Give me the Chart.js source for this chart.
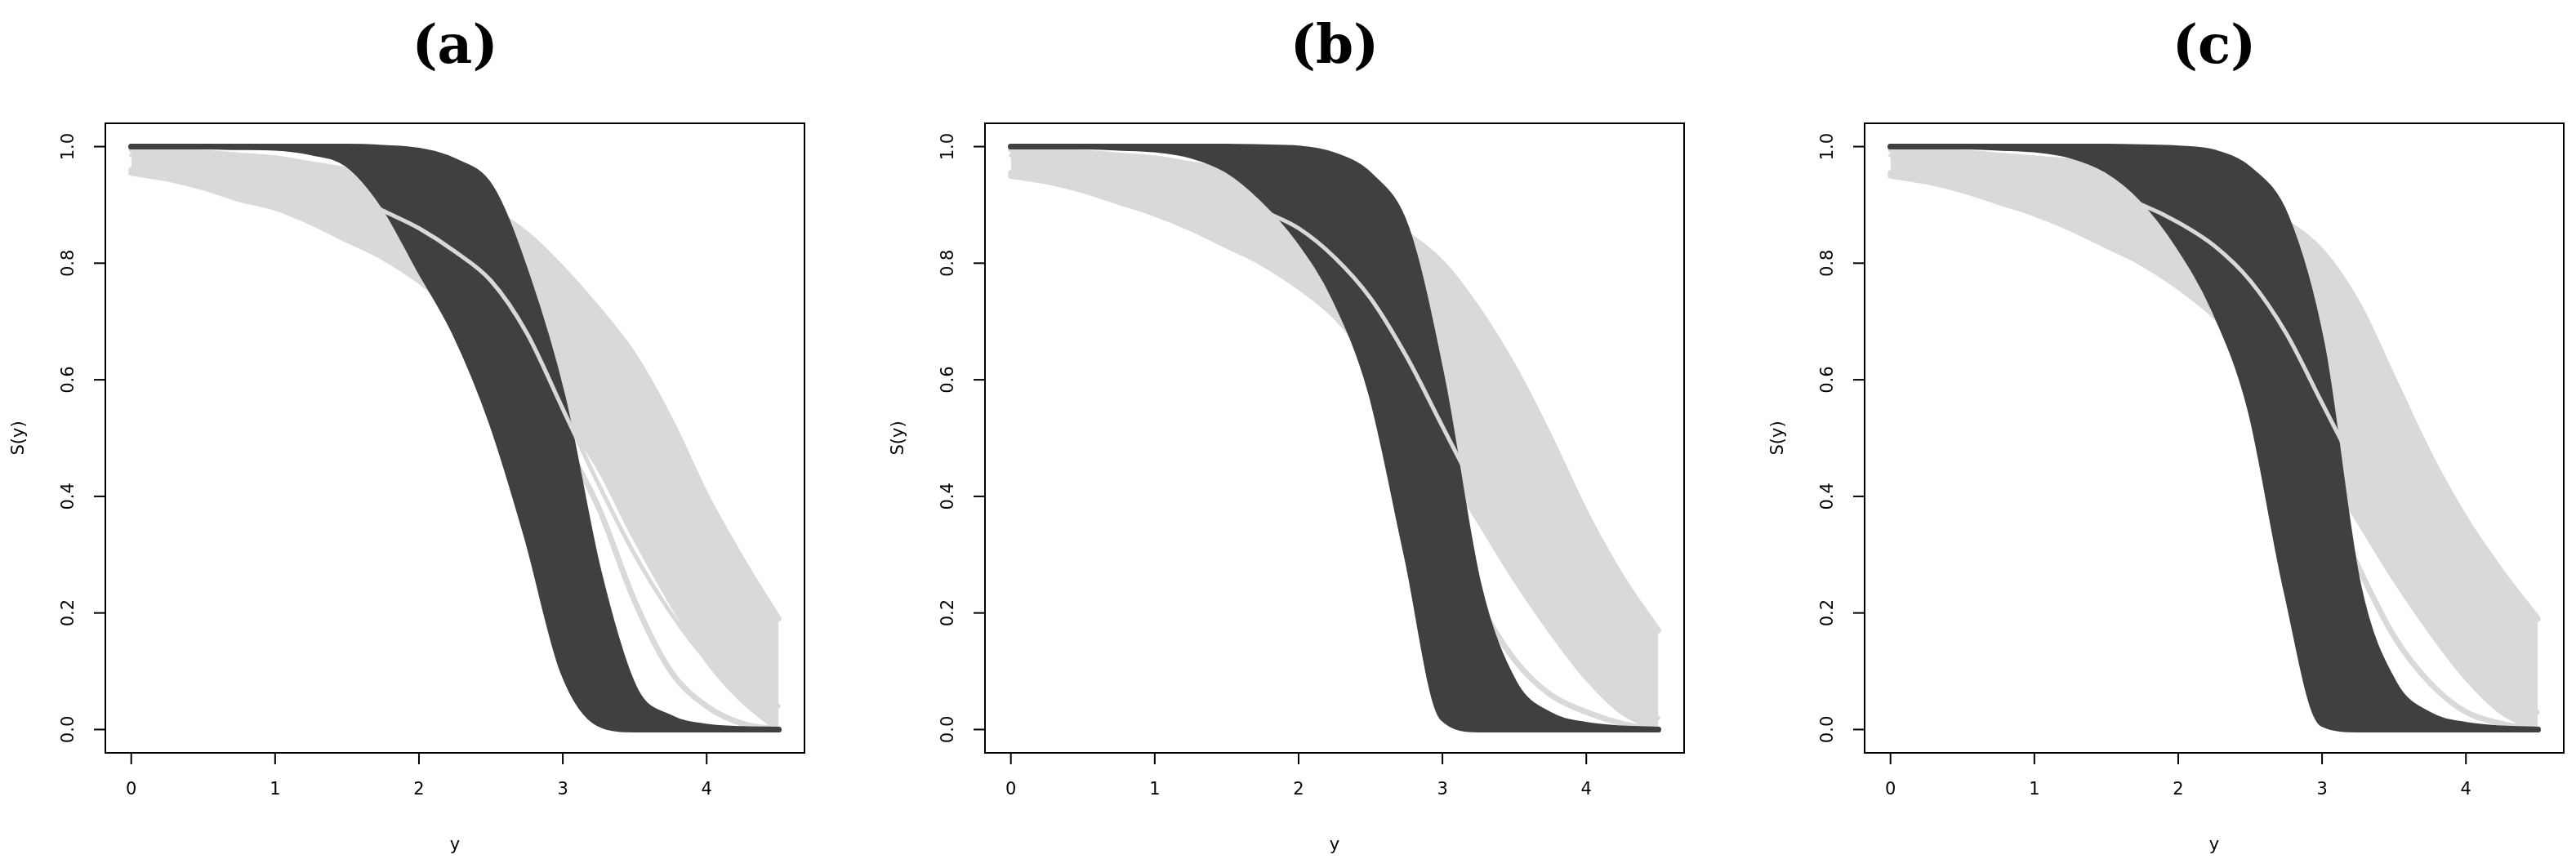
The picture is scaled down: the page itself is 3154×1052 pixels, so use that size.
<!DOCTYPE html>
<html>
<head>
<meta charset="utf-8">
<script src="https://cdn.jsdelivr.net/npm/chart.js@4"></script>
<style>
  body { margin: 0; background: #fff; }
  .panel { position: absolute; top: 0; width: 1077px; height: 1052px; }
</style>
</head>
<body>
<div class="panel" style="left:0px"><canvas id="chartA"></canvas></div>
<div class="panel" style="left:1077px"><canvas id="chartB"></canvas></div>
<div class="panel" style="left:2154px"><canvas id="chartC"></canvas></div>
<script>
// grid of y values (0 .. 4.5 by 0.25)
const yGrid = [0, 0.25, 0.5, 0.75, 1, 1.25, 1.5, 1.75, 2, 2.25, 2.5, 2.75, 3, 3.25, 3.5, 3.75, 4, 4.25, 4.5];
const xTicks = [0, 1, 2, 3, 4];
const yTicks = [0.0, 0.2, 0.4, 0.6, 0.8, 1.0];
const panelTitles = ["a", "b", "c"];

// panel (a)
const aLightUpper = [0.995, 0.993, 0.99, 0.985, 0.98, 0.97, 0.96, 0.945, 0.93, 0.91, 0.89, 0.85, 0.79, 0.72, 0.64, 0.53, 0.40, 0.29, 0.19];
const aLightLower = [0.955, 0.945, 0.93, 0.91, 0.895, 0.87, 0.84, 0.81, 0.77, 0.72, 0.68, 0.62, 0.54, 0.45, 0.33, 0.22, 0.12, 0.05, 0.0];
const aLightStray = [0.96, 0.95, 0.935, 0.915, 0.9, 0.875, 0.845, 0.815, 0.78, 0.74, 0.69, 0.62, 0.5, 0.38, 0.22, 0.10, 0.04, 0.01, 0.0];
const aDarkUpper = [1, 1, 1, 1, 1, 1, 1, 0.998, 0.993, 0.975, 0.93, 0.78, 0.57, 0.27, 0.07, 0.02, 0.005, 0.001, 0];
const aDarkLower = [1, 1, 1, 0.999, 0.998, 0.99, 0.97, 0.9, 0.79, 0.68, 0.53, 0.33, 0.1, 0.01, 0, 0, 0, 0, 0];
const aLightOver = [0.985, 0.98, 0.975, 0.965, 0.955, 0.94, 0.92, 0.89, 0.86, 0.82, 0.77, 0.68, 0.55, 0.42, 0.3, 0.2, 0.12, 0.07, 0.04];

// panel (b)
const bLightUpper = [0.995, 0.993, 0.99, 0.985, 0.98, 0.97, 0.96, 0.945, 0.93, 0.91, 0.885, 0.85, 0.8, 0.72, 0.62, 0.5, 0.37, 0.26, 0.17];
const bLightLower = [0.95, 0.94, 0.925, 0.905, 0.885, 0.86, 0.83, 0.8, 0.76, 0.71, 0.64, 0.56, 0.46, 0.36, 0.26, 0.17, 0.09, 0.03, 0.0];
const bLightStray = [0.955, 0.945, 0.93, 0.91, 0.89, 0.865, 0.835, 0.8, 0.76, 0.71, 0.63, 0.5, 0.36, 0.22, 0.12, 0.06, 0.03, 0.01, 0.0];
const bDarkUpper = [1, 1, 1, 1, 1, 1, 1, 0.999, 0.997, 0.985, 0.95, 0.86, 0.6, 0.25, 0.08, 0.025, 0.008, 0.002, 0];
const bDarkLower = [1, 1, 1, 0.998, 0.995, 0.985, 0.96, 0.91, 0.84, 0.74, 0.58, 0.3, 0.02, 0, 0, 0, 0, 0, 0];
const bLightOver = [0.985, 0.98, 0.975, 0.965, 0.955, 0.94, 0.92, 0.89, 0.86, 0.81, 0.74, 0.64, 0.52, 0.4, 0.28, 0.18, 0.1, 0.05, 0.02];

// panel (c)
const cLightUpper = [0.995, 0.993, 0.99, 0.985, 0.98, 0.975, 0.965, 0.955, 0.94, 0.92, 0.9, 0.87, 0.82, 0.73, 0.6, 0.47, 0.36, 0.27, 0.19];
const cLightLower = [0.95, 0.94, 0.925, 0.905, 0.885, 0.86, 0.83, 0.8, 0.76, 0.71, 0.64, 0.56, 0.46, 0.36, 0.26, 0.17, 0.09, 0.03, 0.0];
const cLightStray = [0.955, 0.945, 0.93, 0.91, 0.89, 0.865, 0.835, 0.8, 0.76, 0.71, 0.64, 0.55, 0.42, 0.28, 0.16, 0.08, 0.03, 0.01, 0.0];
const cDarkUpper = [1, 1, 1, 1, 1, 1, 1, 0.999, 0.997, 0.99, 0.96, 0.88, 0.66, 0.25, 0.08, 0.025, 0.008, 0.002, 0];
const cDarkLower = [1, 1, 1, 0.998, 0.995, 0.985, 0.96, 0.91, 0.83, 0.72, 0.55, 0.24, 0.01, 0, 0, 0, 0, 0, 0];
const cLightOver = [0.985, 0.98, 0.975, 0.965, 0.955, 0.94, 0.92, 0.9, 0.87, 0.83, 0.77, 0.68, 0.56, 0.44, 0.32, 0.22, 0.13, 0.07, 0.03];

const LIGHT = "#d9d9d9";
const DARK = "#404040";

function pts(vals) {
    return vals.map((v, i) => ({ x: yGrid[i], y: v }));
}

function line(vals, color, fill, width) {
    return {
        data: pts(vals),
        borderColor: color,
        backgroundColor: color,
        borderWidth: width || 7,
        pointRadius: 0,
        fill: fill,
        cubicInterpolationMode: "monotone",
        borderCapStyle: "round"
    };
}

// R-style box, axes and labels drawn with the chart's scales
const rAxes = {
    id: "rAxes",
    afterDraw(chart, args, opts) {
        const ctx = chart.ctx;
        const a = chart.chartArea;
        const sx = chart.scales.x;
        const sy = chart.scales.y;
        ctx.save();
        ctx.strokeStyle = "#000";
        ctx.lineWidth = 2;
        ctx.strokeRect(a.left, a.top, a.right - a.left, a.bottom - a.top);
        ctx.fillStyle = "#000";
        ctx.font = "21px 'DejaVu Sans', Arial";

        // x axis
        ctx.beginPath();
        ctx.moveTo(sx.getPixelForValue(xTicks[0]), a.bottom);
        ctx.lineTo(sx.getPixelForValue(xTicks[xTicks.length - 1]), a.bottom);
        ctx.stroke();
        ctx.textAlign = "center";
        ctx.textBaseline = "middle";
        xTicks.forEach(t => {
            const px = sx.getPixelForValue(t);
            ctx.beginPath();
            ctx.moveTo(px, a.bottom);
            ctx.lineTo(px, a.bottom + 14);
            ctx.stroke();
            ctx.fillText(String(t), px, a.bottom + 46);
        });
        ctx.fillText("y", (a.left + a.right) / 2, a.bottom + 114);

        // y axis
        ctx.beginPath();
        ctx.moveTo(a.left, sy.getPixelForValue(yTicks[0]));
        ctx.lineTo(a.left, sy.getPixelForValue(yTicks[yTicks.length - 1]));
        ctx.stroke();
        yTicks.forEach(t => {
            const py = sy.getPixelForValue(t);
            ctx.beginPath();
            ctx.moveTo(a.left, py);
            ctx.lineTo(a.left - 14, py);
            ctx.stroke();
            ctx.save();
            ctx.translate(a.left - 44, py);
            ctx.rotate(-Math.PI / 2);
            ctx.fillText(t.toFixed(1), 0, 0);
            ctx.restore();
        });
        ctx.save();
        ctx.translate(a.left - 105, (a.top + a.bottom) / 2);
        ctx.rotate(-Math.PI / 2);
        ctx.fillText("S(y)", 0, 0);
        ctx.restore();

        // panel title
        const cx = (a.left + a.right) / 2;
        ctx.font = "bold 66px 'DejaVu Serif', serif";
        ctx.fillText("(" + opts.label + ")", cx, 60);
        ctx.restore();
    }
};

function makePanel(id, label, lu, ll, ls, du, dl, lo) {
    // Chart.js paints lower indices on top, so the order here runs top -> bottom
    new Chart(document.getElementById(id), {
        type: "line",
        data: {
            datasets: [
                line(lo, LIGHT, false, 5),
                line(du, DARK, false),
                line(dl, DARK, "-1"),
                line(ls, LIGHT, false),
                line(lu, LIGHT, false),
                line(ll, LIGHT, "-1")
            ]
        },
        options: {
            responsive: true,
            maintainAspectRatio: false,
            animation: false,
            layout: { padding: { left: 129, right: 92, top: 151, bottom: 130 } },
            scales: {
                x: { type: "linear", min: -0.18, max: 4.68, display: false },
                y: { min: -0.04, max: 1.04, display: false }
            },
            plugins: {
                legend: { display: false },
                tooltip: { enabled: false },
                rAxes: { label: label }
            }
        },
        plugins: [rAxes]
    });
}

makePanel("chartA", panelTitles[0], aLightUpper, aLightLower, aLightStray, aDarkUpper, aDarkLower, aLightOver);
makePanel("chartB", panelTitles[1], bLightUpper, bLightLower, bLightStray, bDarkUpper, bDarkLower, bLightOver);
makePanel("chartC", panelTitles[2], cLightUpper, cLightLower, cLightStray, cDarkUpper, cDarkLower, cLightOver);
</script>
</body>
</html>
